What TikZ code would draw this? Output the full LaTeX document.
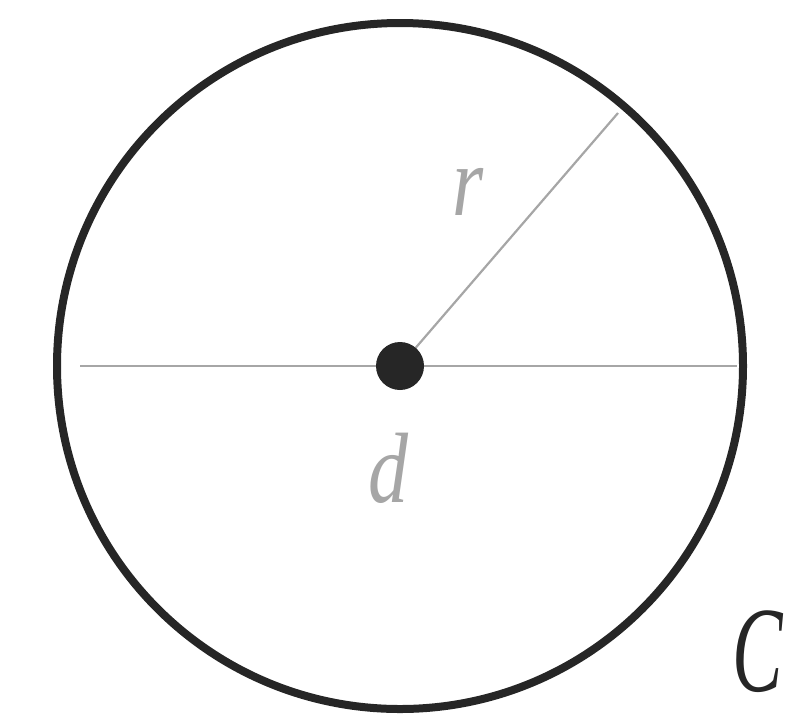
\documentclass[tikz,border=0pt]{standalone}
\usepackage{fontspec}
\setmainfont{Liberation Serif}
\begin{document}
\begin{tikzpicture}[x=1pt,y=-1pt,
  thinline/.style={draw=gray!70,line width=2.2pt},
  lbl/.style={font=\fontsize{100}{100}\selectfont\itshape,inner sep=0pt}]
\useasboundingbox (0,0) rectangle (794,724);
\coordinate (O) at (400,366);
\coordinate (L) at (80,366);
\coordinate (R) at (737,366);
\coordinate (P) at (618,113);
\draw[line width=8pt,draw=black!85] (O) circle[radius=343];
\draw[thinline] (L) -- (R);
\draw[thinline] (O) -- (P);
\fill[black!85] (O) circle[radius=24];
\node[lbl,text=gray!70,xscale=0.8] (r) at (468,192) {r};
\node[lbl,text=gray!70,xscale=0.8] (d) at (388,468) {d};
\node[lbl,text=black!85,font=\fontsize{122}{122}\selectfont\itshape,xscale=0.62] (C) at (758,652) {C};
\end{tikzpicture}
\end{document}
